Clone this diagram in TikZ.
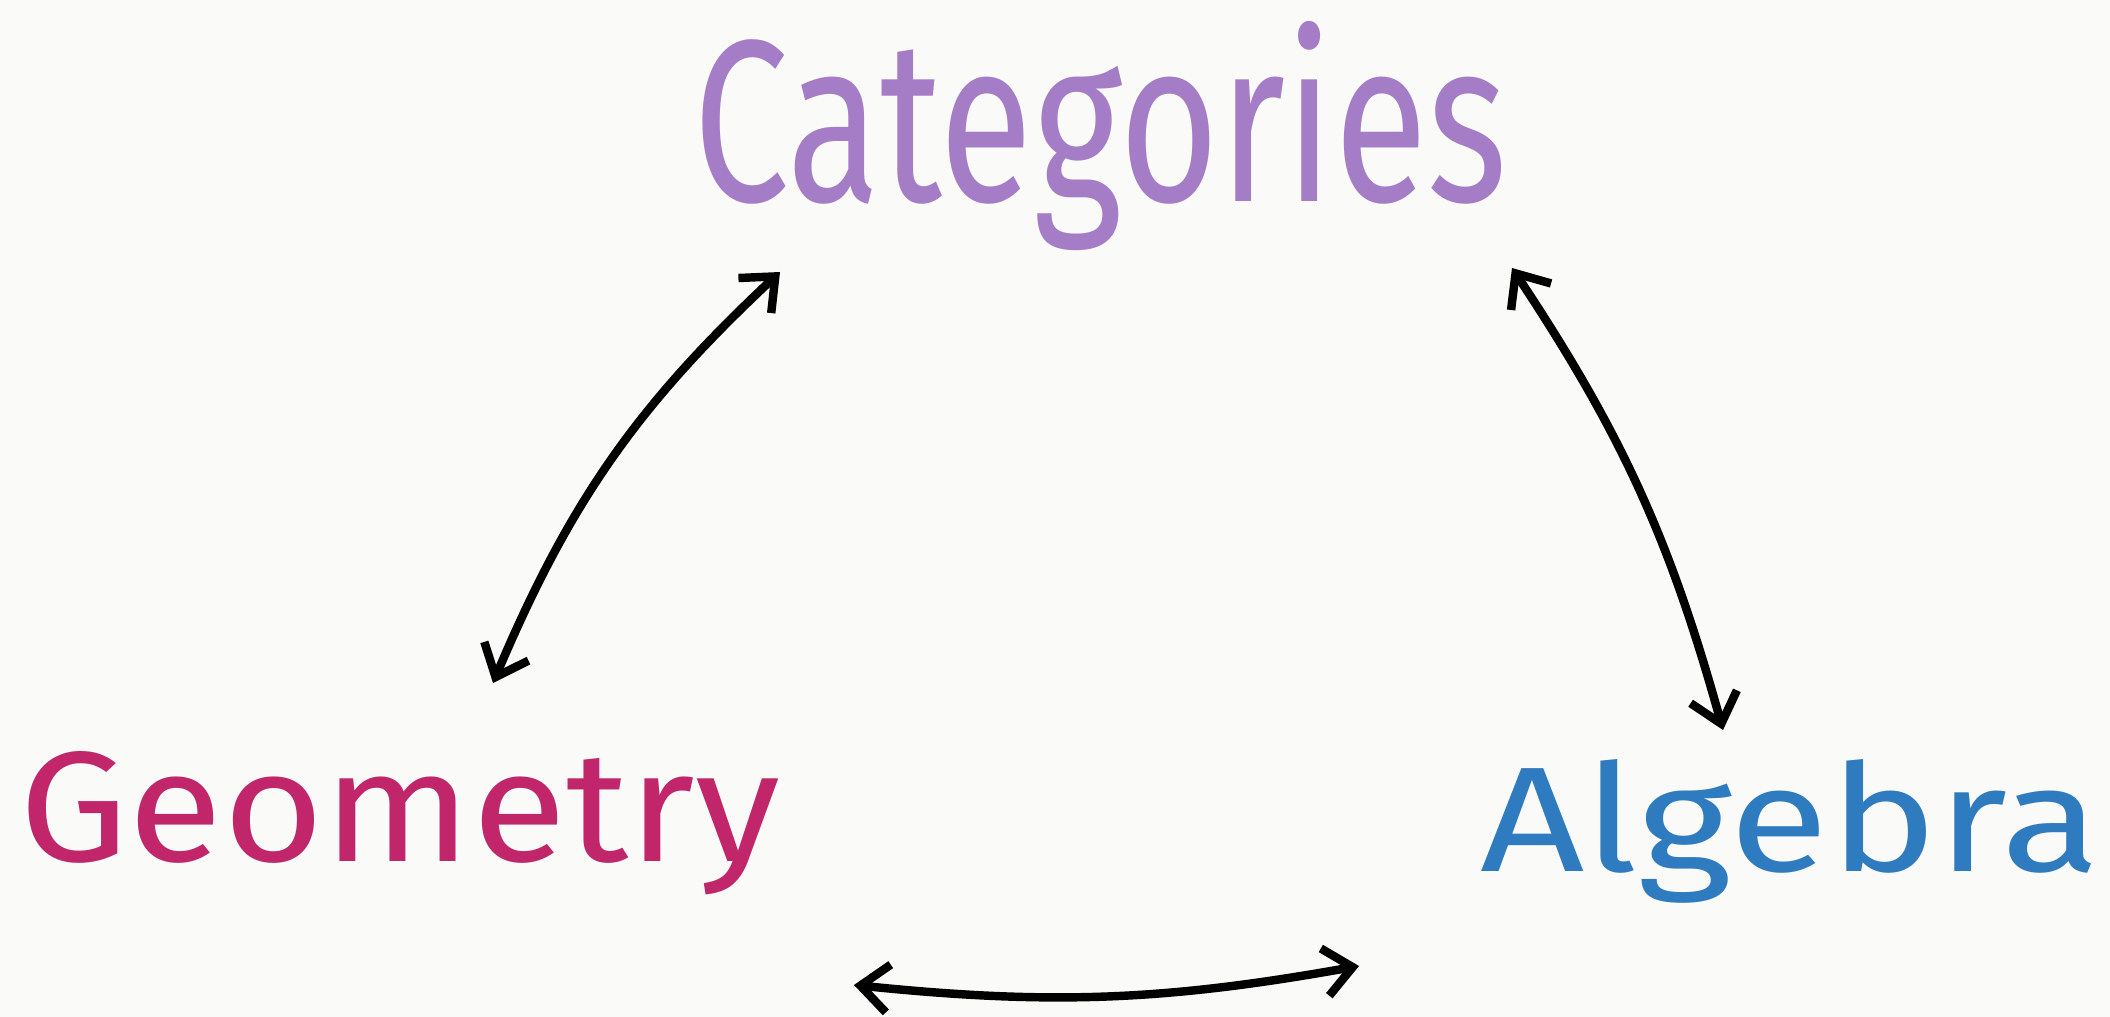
\documentclass[tikz,border=0pt]{standalone}
\usepackage{fontspec}
\usepackage{graphicx}
\usetikzlibrary{arrows.meta}
\newfontfamily\hand{Fira Sans}
\definecolor{bgc}{HTML}{FAFAF9}
\definecolor{catc}{HTML}{A57CC6}
\definecolor{geoc}{HTML}{C2266A}
\definecolor{algc}{HTML}{2E7BBF}
\tikzset{
  word/.style={inner sep=0pt, outer sep=0pt, anchor=base west, font=\hand},
  arr/.style={black, line width=2.4pt, line cap=round, line join=round,
    {Straight Barb[length=0.28cm, width=0.48cm]}-{Straight Barb[length=0.28cm, width=0.48cm]}}
}
\begin{document}
\begin{tikzpicture}
\fill[bgc] (0,0) rectangle (21.1,-10.17);
\useasboundingbox (0,0) rectangle (21.1,-10.17);
\node[word, text=catc] (cat) at (6.93,-2.02) {\resizebox{8.14cm}{1.8cm}{Categories}};
\node[word, text=geoc] (geo) at (0.2,-8.61) {\resizebox{7.6cm}{1.1cm}{Geometry}};
\node[word, text=algc] (alg) at (14.8,-8.72) {\resizebox{6.2cm}{1.12cm}{Algebra}};
\draw[arr] ([shift={(4.73,1.78)}]geo.base west) to[bend left=12] ([shift={(0.87,-0.70)}]cat.base west);
\draw[arr] ([shift={(8.19,-0.66)}]cat.base west) to[bend left=9] ([shift={(2.43,1.42)}]alg.base west);
\draw[arr] ([shift={(8.34,-1.24)}]geo.base west) to[bend right=8] ([shift={(-1.21,-0.94)}]alg.base west);
\end{tikzpicture}
\end{document}
